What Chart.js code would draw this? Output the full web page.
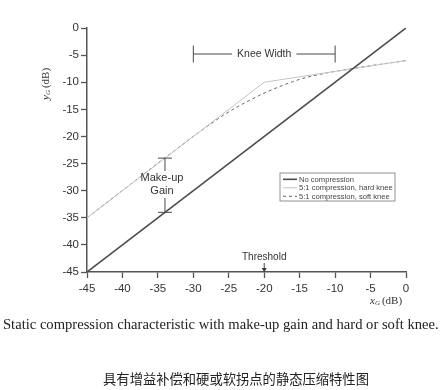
<!DOCTYPE html>
<html>
<head>
<meta charset="utf-8">
<script src="https://cdn.jsdelivr.net/npm/chart.js@4/dist/chart.umd.min.js"></script>
<style>
  html, body { margin: 0; padding: 0; background: #fff; }
  #wrap { position: relative; width: 445px; height: 390px; }
</style>
</head>
<body>
<div id="wrap"><canvas id="kneeChart" width="445" height="390"></canvas></div>
<script>
// series
const seriesLabels = ["No compression", "5:1 compression, hard knee", "5:1 compression, soft knee"];
const noCompX = [-45, 0];
const noCompY = [-45, 0];
const hardX = [-45, -20, 0];
const hardY = [-35, -10, -6];
const softX = [-45, -30, -28, -26, -24, -22, -20, -18, -16, -14, -12, -10, 0];
const softY = [-35, -20, -18.1, -16.3, -14.7, -13.3, -12, -10.9, -9.9, -9.1, -8.5, -8, -6];

// annotation values (data units)
const kneeWidth = [-30, -10];
const kneeLabelY = -4.8;
const makeupX = -34;
const makeupRange = [-34, -24];
const threshold = -20;

const caption = "Static compression characteristic with make-up gain and hard or soft knee.";
const captionCN = "具有增益补偿和硬或软拐点的静态压缩特性图";

function pts(xs, ys) { return xs.map((x, i) => ({ x: x, y: ys[i] })); }

const ink = "#4a4a4a";
const sans = "Arial, 'Liberation Sans', sans-serif";
const serif = "'Liberation Serif', serif";

// draws "v_G (dB)" starting at (x, y), returns nothing
function subLabel(c, v, x, y) {
  c.textAlign = "left";
  c.font = "italic 11px " + serif;
  c.fillText(v, x, y);
  x += c.measureText(v).width;
  c.font = "italic 7px " + serif;
  c.fillText("G", x, y + 2.5);
  x += c.measureText("G").width + 2;
  c.font = "11px " + serif;
  c.fillText("(dB)", x, y);
}

const extras = {
  id: "extras",
  afterDraw(chart) {
    const c = chart.ctx, xs = chart.scales.x, ys = chart.scales.y;
    const px = v => xs.getPixelForValue(v), py = v => ys.getPixelForValue(v);
    c.save();
    c.strokeStyle = ink; c.fillStyle = "#333"; c.lineWidth = 1;

    // knee width bracket
    const ky = py(kneeLabelY), k0 = px(kneeWidth[0]), k1 = px(kneeWidth[1]);
    c.font = "10.5px " + sans;
    c.textAlign = "center"; c.textBaseline = "middle";
    const kx = (k0 + k1) / 2, kw = c.measureText("Knee Width").width / 2 + 5;
    c.beginPath();
    c.moveTo(k0, ky); c.lineTo(kx - kw, ky);
    c.moveTo(kx + kw, ky); c.lineTo(k1, ky);
    c.moveTo(k0, ky - 8.5); c.lineTo(k0, ky + 8.5);
    c.moveTo(k1, ky - 8.5); c.lineTo(k1, ky + 8.5);
    c.stroke();
    c.fillText("Knee Width", kx, ky);

    // make-up gain bar
    const mx = px(makeupX), m0 = py(makeupRange[0]), m1 = py(makeupRange[1]);
    c.beginPath();
    c.moveTo(mx, m0); c.lineTo(mx, 198);
    c.moveTo(mx, 171); c.lineTo(mx, m1);
    c.moveTo(mx - 7, m0); c.lineTo(mx + 7, m0);
    c.moveTo(mx - 7, m1); c.lineTo(mx + 7, m1);
    c.stroke();
    c.font = "11px " + sans;
    c.fillText("Make-up", mx - 3, 178);
    c.fillText("Gain", mx - 3, 191);

    // threshold arrow
    const tx = px(threshold), tb = ys.bottom;
    c.font = "10px " + sans;
    c.fillText("Threshold", tx, tb - 15);
    c.beginPath(); c.moveTo(tx, tb - 9); c.lineTo(tx, tb - 2); c.stroke();
    c.beginPath(); c.moveTo(tx - 2.5, tb - 4); c.lineTo(tx + 2.5, tb - 4); c.lineTo(tx, tb); c.closePath(); c.fill();

    // legend box
    const lx = 280, ly = 173, lw = 115, lh = 28;
    c.strokeStyle = "#777"; c.lineWidth = 0.8;
    c.strokeRect(lx, ly, lw, lh);
    c.font = "7.6px " + sans;
    c.textAlign = "left";
    chart.data.datasets.forEach((d, i) => {
      const yy = ly + 6.3 + i * 8.5;
      c.strokeStyle = d.borderColor; c.lineWidth = d.borderWidth;
      c.setLineDash(d.borderDash || []);
      c.beginPath(); c.moveTo(lx + 3, yy); c.lineTo(lx + 17, yy); c.stroke();
      c.setLineDash([]);
      c.fillStyle = "#444";
      c.fillText(d.label, lx + 19, yy + 0.5);
    });

    // axis titles
    c.fillStyle = "#333";
    c.save();
    c.translate(46, 100); c.rotate(-Math.PI / 2);
    subLabel(c, "y", 0, 0);
    c.restore();
    subLabel(c, "x", 370, 301);

    // captions
    c.fillStyle = "#222";
    c.textAlign = "left";
    c.font = "14.6px " + serif;
    c.fillText(caption, 3, 325);
    c.textAlign = "center";
    c.font = "13.3px 'Noto Sans CJK SC', sans-serif";
    c.fillText(captionCN, 236, 379);
    c.restore();
  }
};

new Chart(document.getElementById("kneeChart"), {
  type: "line",
  data: {
    datasets: [{
        label: seriesLabels[0],
        data: pts(noCompX, noCompY),
        borderColor: "#4d4d4d",
        borderWidth: 1.6
      }, {
        label: seriesLabels[1],
        data: pts(hardX, hardY),
        borderColor: "#c4c4c4",
        borderWidth: 1
      }, {
        label: seriesLabels[2],
        data: pts(softX, softY),
        borderColor: "#555",
        borderWidth: 0.9,
        borderDash: [3, 3],
        cubicInterpolationMode: "monotone"
      }
    ]
  },
  options: {
    responsive: false,
    animation: false,
    events: [],
    elements: { point: { radius: 0 } },
    layout: { padding: { left: 0, top: 28, right: 39, bottom: 0 } },
    plugins: { legend: { display: false }, tooltip: { enabled: false } },
    scales: {
      x: {
        type: "linear", min: -45, max: 0,
        grid: { drawOnChartArea: false, tickLength: 6, color: "#555", tickWidth: 1.3 },
        border: { color: "#555", width: 1.5 },
        ticks: { color: "#333", font: { family: sans, size: 11.5 }, stepSize: 5, padding: 4 },
        afterFit(s) { s.height = 118; }
      },
      y: {
        type: "linear", min: -45, max: 0,
        grid: { drawOnChartArea: false, tickLength: 6, color: "#555", tickWidth: 1.3 },
        border: { color: "#555", width: 1.5 },
        ticks: { color: "#333", font: { family: sans, size: 11.5 }, stepSize: 5, padding: 2 },
        afterFit(s) { s.width = 87; }
      }
    }
  },
  plugins: [extras]
});
</script>
</body>
</html>
